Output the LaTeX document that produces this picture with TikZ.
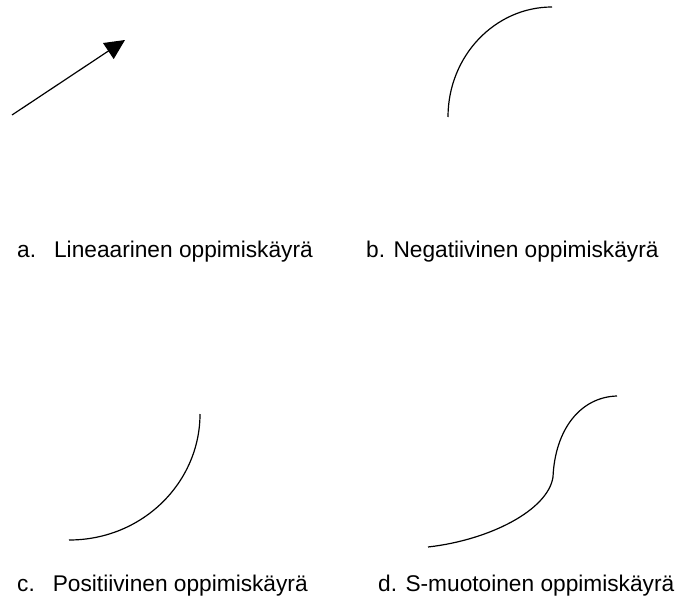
\documentclass[tikz,border=0pt]{standalone}
\usepackage{fontspec}
\setmainfont{Liberation Sans}
\usetikzlibrary{arrows.meta}

\begin{document}
\begin{tikzpicture}[
    x=1pt, y=-1pt,
    curve/.style={draw=black,line width=1.2pt},
    caption/.style={anchor=base west,inner sep=0pt,font=\fontsize{22.7}{27}\selectfont},
    >={Triangle[length=20pt,width=19pt]},
]
    \useasboundingbox (0,0) rectangle (676,596);

    % a. lineaarinen
    \coordinate (lin0) at (12,115);
    \coordinate (lin1) at (125,40);
    \draw[curve,->] (lin0) -- (lin1);

    % b. negatiivinen
    \coordinate (neg0) at (448,117);
    \coordinate (neg1) at (552,7);
    \draw[curve] (neg0) .. controls (448,56) and (495,7) .. (neg1);

    % c. positiivinen
    \coordinate (pos0) at (69,540);
    \coordinate (pos1) at (200,414);
    \draw[curve] (pos0) .. controls (143,540) and (200,482) .. (pos1);

    % d. S-muotoinen
    \coordinate (s0) at (428,547);
    \coordinate (smid) at (553,477);
    \coordinate (s1) at (617,396);
    \draw[curve] (s0) .. controls (490,540) and (548,510) .. (smid)
        .. controls (555,430) and (580,397) .. (s1);

    \node[caption] (capa) at (17,257) {a.\hspace{18pt}Lineaarinen oppimiskäyrä};
    \node[caption] (capb) at (366,257) {b. Negatiivinen oppimiskäyrä};
    \node[caption] (capc) at (17,591) {c.\hspace{18pt}Positiivinen oppimiskäyrä};
    \node[caption] (capd) at (378,591) {d. S-muotoinen oppimiskäyrä};
\end{tikzpicture}
\end{document}
